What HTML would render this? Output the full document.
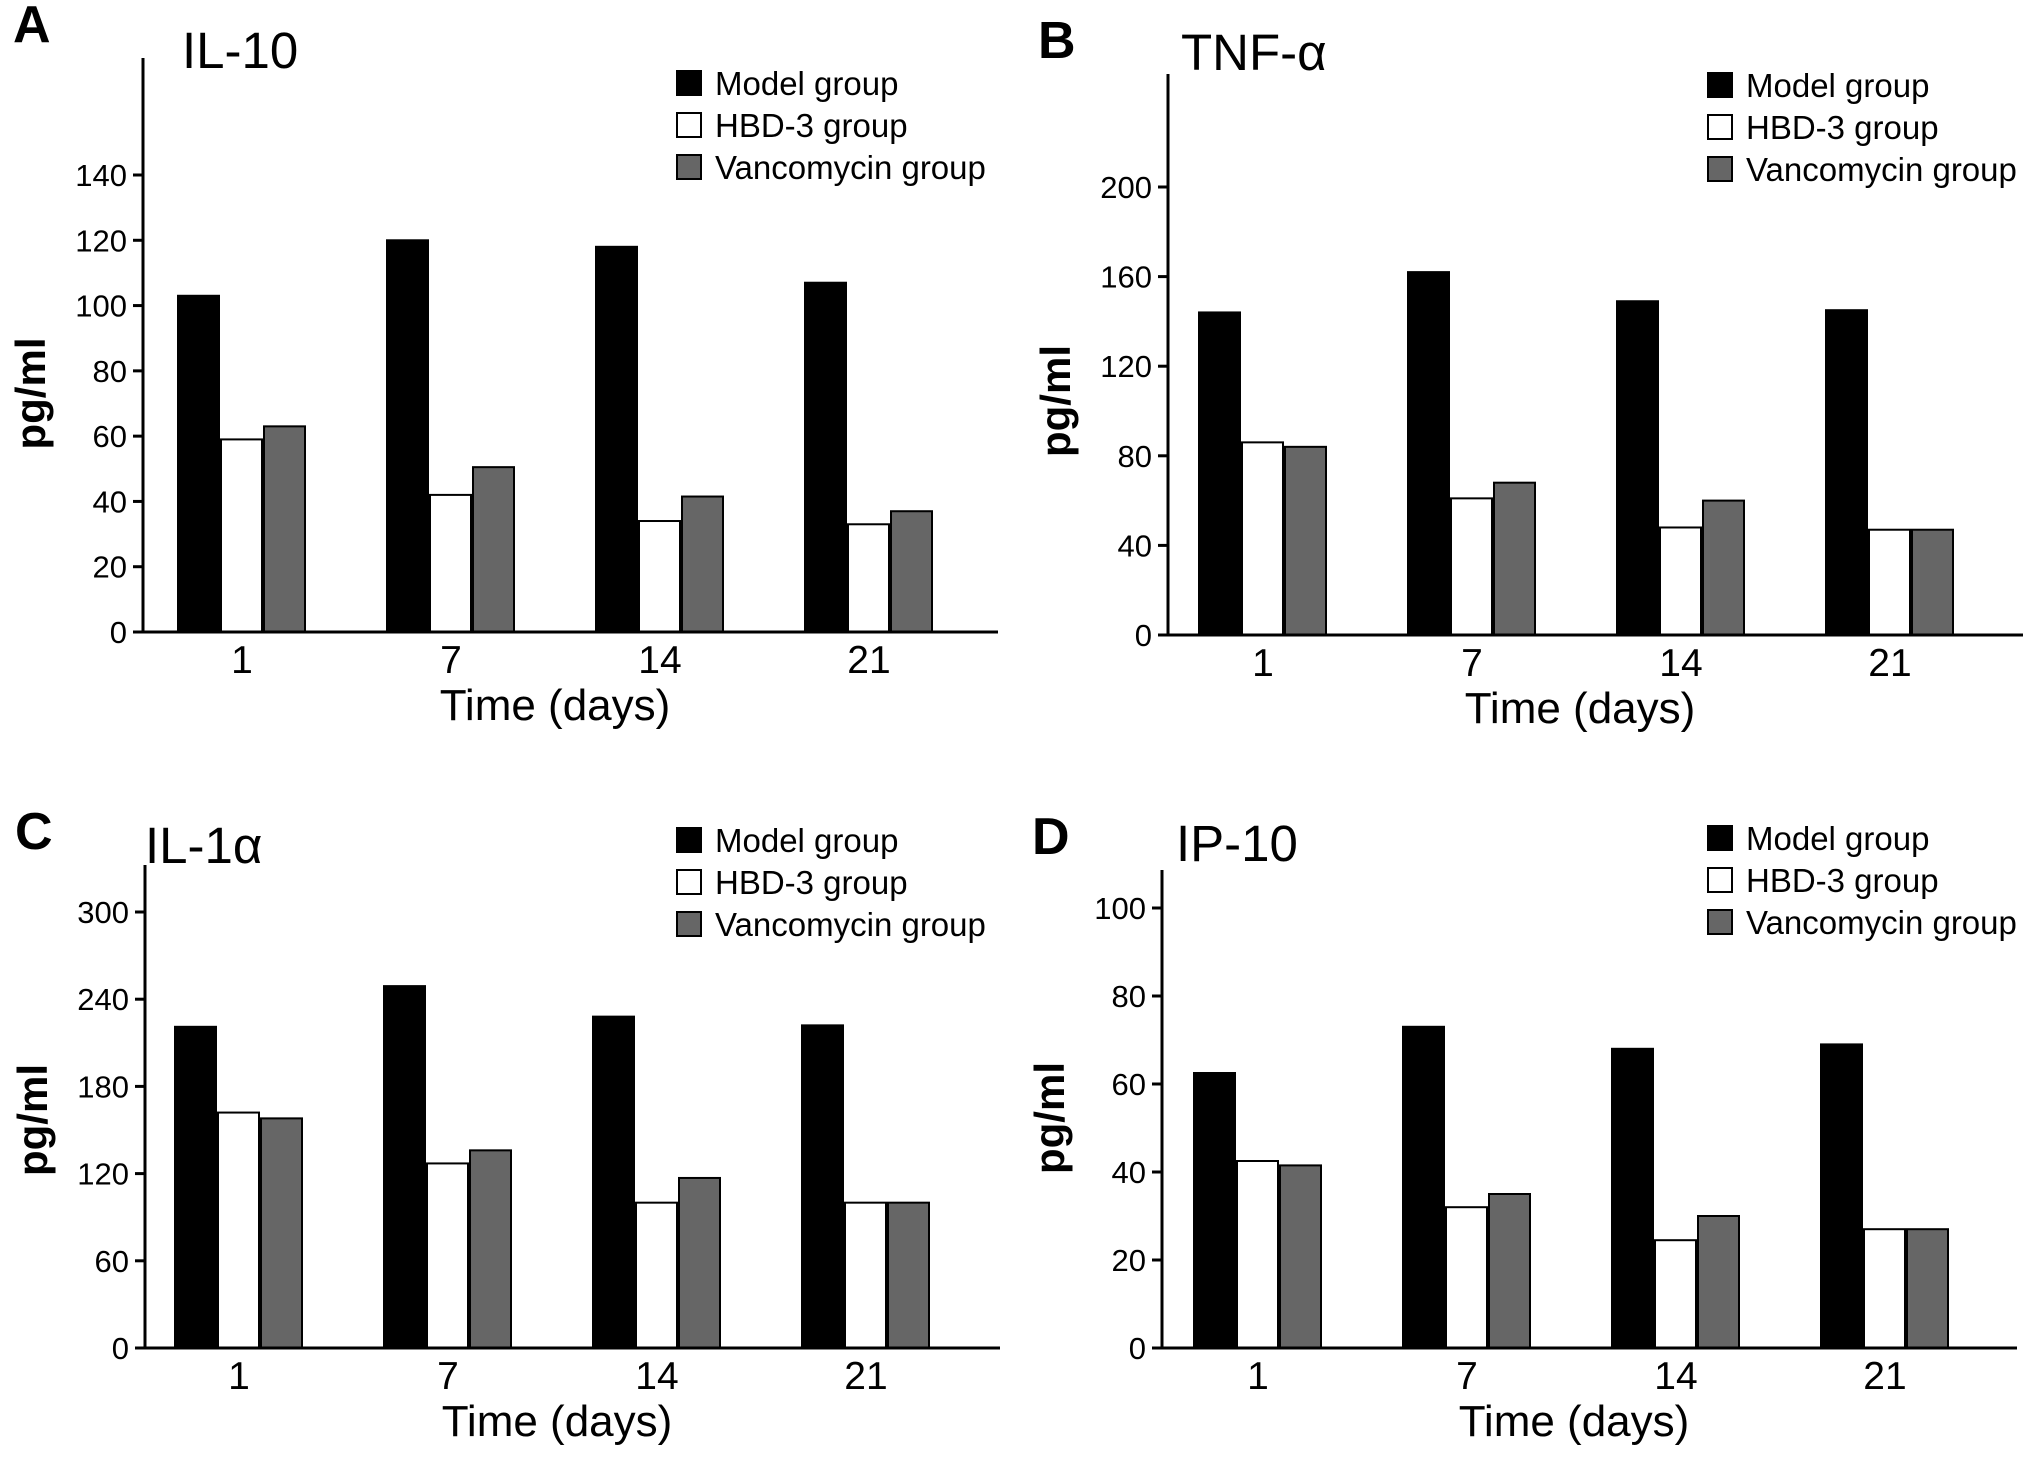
<!DOCTYPE html>
<html><head><meta charset="utf-8"><style>
html,body{margin:0;padding:0;background:#fff;}
svg{display:block;font-family:"Liberation Sans",Arial,sans-serif;}
</style></head><body>
<svg id="fig" width="2031" height="1459" viewBox="0 0 2031 1459" xmlns="http://www.w3.org/2000/svg"></svg>
<script>
const days = ["1","7","14","21"];
const seriesNames = ["Model group","HBD-3 group","Vancomycin group"];
const ilA_model = [103,120,118,107];
const ilA_hbd = [59,42,34,33];
const ilA_vanc = [63,50.5,41.5,37];
const tnfB_model = [144,162,149,145];
const tnfB_hbd = [86,61,48,47];
const tnfB_vanc = [84,68,60,47];
const il1C_model = [221,249,228,222];
const il1C_hbd = [162,127,100,100];
const il1C_vanc = [158,136,117,100];
const ipD_model = [62.5,73,68,69];
const ipD_hbd = [42.5,32,24.5,27];
const ipD_vanc = [41.5,35,30,27];
const ticksA = [0,20,40,60,80,100,120,140];
const ticksB = [0,40,80,120,160,200];
const ticksC = [0,60,120,180,240,300];
const ticksD = [0,20,40,60,80,100];

const NS="http://www.w3.org/2000/svg";
const svg=document.getElementById('fig');
function mk(tag,attrs,parent){const e=document.createElementNS(NS,tag);for(const k in attrs)e.setAttribute(k,attrs[k]);(parent||svg).appendChild(e);return e;}
const fills=["#000","#fff","#666"];

function panel(cfg){
  const g=mk('g',{});
  
  
  const y=v=>cfg.zero-(v-0)*(cfg.zero-cfg.topTickY)/cfg.topTick;
  const L=mk('text',{x:cfg.ax-130,y:cfg.top-16,'font-size':52,'font-weight':'bold'},g);L.textContent=cfg.letter;
  
  
  const T=mk('text',{x:cfg.ax+cfg.tdx,y:cfg.top+8+cfg.tdy,'font-size':51},g);T.textContent=cfg.title;
  
  
  const series=[cfg.model,cfg.hbd,cfg.vanc];
  series.forEach((arr,si)=>{
    arr.forEach((v,i)=>{
      const x=cfg.x0+i*209+si*43;
      const r=mk('rect',{x:x,y:y(v),width:41,height:cfg.zero-y(v),fill:fills[si],stroke:'#000','stroke-width':2},g);
      
      
    });
  });
  const ya=mk('line',{x1:cfg.ax,y1:cfg.top,x2:cfg.ax,y2:cfg.zero,stroke:'#000','stroke-width':3},g);
  
  
  const xa=mk('line',{x1:cfg.ax-10,y1:cfg.zero,x2:cfg.ax+855,y2:cfg.zero,stroke:'#000','stroke-width':3},g);
  
  
  cfg.ticks.forEach(t=>{
    mk('line',{x1:cfg.ax-10,y1:y(t),x2:cfg.ax,y2:y(t),stroke:'#000','stroke-width':3},g);
    const tl=mk('text',{x:cfg.ax-16,y:y(t)+11,'font-size':31,'text-anchor':'end'},g);tl.textContent=t;
    
    
  });
  days.forEach((d,i)=>{
    const xl=mk('text',{x:cfg.x0+i*209+64,y:cfg.zero+41,'font-size':39,'text-anchor':'middle'},g);xl.textContent=d;
    
    
  });
  const xt=mk('text',{x:cfg.ax+412,y:cfg.zero+88,'font-size':44,'text-anchor':'middle'},g);xt.textContent="Time (days)";
  
  
  const cy=(cfg.zero+cfg.topTickY)/2-10;
  const yt=mk('text',{x:cfg.ax-98,y:cy,'font-size':42,'font-weight':'bold','text-anchor':'middle',transform:'rotate(-90 '+(cfg.ax-98)+' '+cy+')'},g);yt.textContent="pg/ml";
  
  
  seriesNames.forEach((n,i)=>{
    const ly=cfg.legY+i*42;
    const s=mk('rect',{x:cfg.legX,y:ly-12,width:24,height:24,fill:fills[i],stroke:'#000','stroke-width':2},g);
    
    
    const lt=mk('text',{x:cfg.legX+38,y:ly+12,'font-size':33},g);lt.textContent=n;
    
    
  });
}
panel({letter:'A',title:'IL-10',tdx:39,tdy:2,ax:143,top:58,zero:632,topTick:140,topTickY:175,x0:178,model:ilA_model,hbd:ilA_hbd,vanc:ilA_vanc,ticks:ticksA,legX:677,legY:83});
panel({letter:'B',title:'TNF-α',tdx:13,tdy:-12,ax:1168,top:74,zero:635,topTick:200,topTickY:187,x0:1199,model:tnfB_model,hbd:tnfB_hbd,vanc:tnfB_vanc,ticks:ticksB,legX:1708,legY:85});
panel({letter:'C',title:'IL-1α',tdx:0,tdy:-10,ax:145,top:865,zero:1348,topTick:300,topTickY:912,x0:175,model:il1C_model,hbd:il1C_hbd,vanc:il1C_vanc,ticks:ticksC,legX:677,legY:840});
panel({letter:'D',title:'IP-10',tdx:14,tdy:-17,ax:1162,top:870,zero:1348,topTick:100,topTickY:908,x0:1194,model:ipD_model,hbd:ipD_hbd,vanc:ipD_vanc,ticks:ticksD,legX:1708,legY:838});
</script>
</body></html>
